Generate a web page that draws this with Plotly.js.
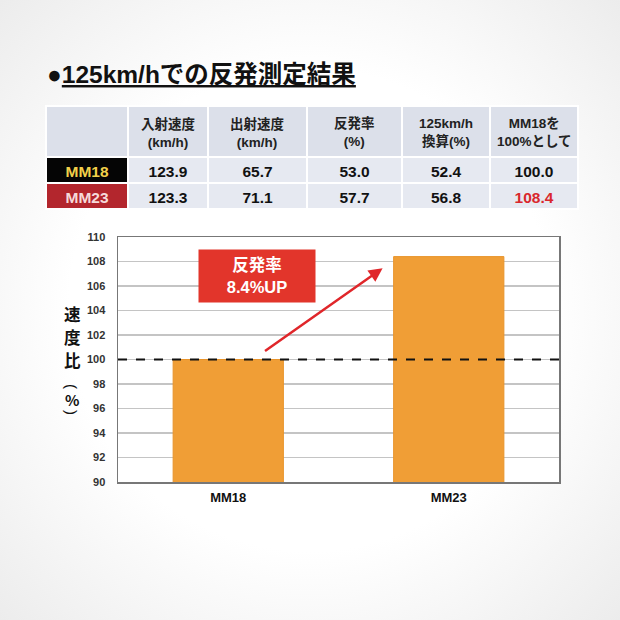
<!DOCTYPE html>
<html>
<head>
<meta charset="utf-8">
<script src="https://cdn.plot.ly/plotly-3.0.1.min.js"></script>
<style>
  html, body { margin: 0; padding: 0; }
  body { width: 620px; height: 620px; background: radial-gradient(ellipse at center, #ffffff 55%, #ececec 100%); }
  #chart { width: 620px; height: 620px; }
</style>
</head>
<body>
<div id="chart"></div>
<script>
// values
const models = ['MM18', 'MM23']
const inSpeed = [123.9, 123.3]
const outSpeed = [65.7, 71.1]
const restitution = [53.0, 57.7]
const converted125 = [52.4, 56.8]
const ratioToMM18 = [100.0, 108.4]
const headerLabels = ['', '入射速度<br>(km/h)', '出射速度<br>(km/h)', '反発率<br>(%)', '125km/h<br>換算(%)', 'MM18を<br>100%として']
const yTitleChars = ['速', '度', '比', '(', '%', ')']
const yTicks = [90, 92, 94, 96, 98, 100, 102, 104, 106, 108, 110]

const FONT = 'Liberation Sans, Arial, "Noto Sans CJK JP", sans-serif'
const CJK = '"Noto Sans CJK JP", sans-serif'
const W = 620, H = 620
const px = v => v / W
const py = v => 1 - v / H

const fmt = arr => arr.map(v => v.toFixed(1))

// table geometry (pixels)
const tableLeft = 46, tableTop = 106
const colWidths = [82, 80, 99, 95, 88, 88]
const tableRight = tableLeft + colWidths.reduce((a, b) => a + b, 0)

const table = {
  type: 'table',
  domain: { x: [px(tableLeft), px(tableRight)], y: [py(212), py(tableTop)] },
  columnwidth: colWidths,
  header: {
    // header text is drawn as annotations below so both lines stay centred
    values: headerLabels.map(() => ''),
    height: 51,
    fill: { color: '#DCE0EA' },
    line: { color: '#ffffff', width: 2 },
    font: { family: FONT, size: 13, color: '#222' }
  },
  cells: {
    values: [models, fmt(inSpeed), fmt(outSpeed), fmt(restitution), fmt(converted125), fmt(ratioToMM18)],
    align: 'center',
    height: 26,
    fill: { color: [['#050505', '#B3262D'], '#E6E9F1', '#E6E9F1', '#E6E9F1', '#E6E9F1', '#E6E9F1'] },
    line: { color: '#ffffff', width: 2 },
    font: {
      family: FONT, size: 15.5, weight: 'bold',
      color: [['#F2D04A', '#F6DADA'], '#111', '#111', '#111', '#111', ['#111', '#D9272C']]
    }
  }
}

const bars = {
  type: 'bar',
  x: models,
  y: ratioToMM18,
  width: 0.5,
  marker: { color: '#F09E36', line: { color: '#E8942C', width: 1 } },
  hoverinfo: 'skip'
}

let annotations = [
  {
    xref: 'paper', yref: 'paper', x: px(45), y: py(74), xanchor: 'left', yanchor: 'middle',
    text: '●<u>125km/hでの反発測定結果</u>', showarrow: false,
    font: { family: FONT, size: 24.5, color: '#111', weight: 'bold' }
  },
  {
    xref: 'x', yref: 'y', x: 0.70, y: 107.45, axref: 'x', ayref: 'y', ax: 0.16, ay: 100.6,
    text: '', showarrow: true, arrowhead: 2, arrowsize: 1.1, arrowwidth: 2.5, arrowcolor: '#E0262A'
  },
  {
    xref: 'x', yref: 'y', x: 0.13, y: 106.8, xanchor: 'center', yanchor: 'middle',
    text: '反発率<br>8.4%UP', showarrow: false,
    width: 114, height: 50, bgcolor: '#E2352B',
    font: { family: FONT, size: 16.5, color: '#ffffff', weight: 'bold' }
  }
]

// header labels, centred in each column
let left = tableLeft
headerLabels.forEach((label, i) => {
  const centre = left + colWidths[i] / 2
  left += colWidths[i]
  if (!label) return
  annotations.push({
    xref: 'paper', yref: 'paper', x: px(centre), y: py(133), xanchor: 'center', yanchor: 'middle',
    text: label, showarrow: false, align: 'center',
    font: { family: FONT, size: 13.5, color: '#222', weight: 'bold' }
  })
})

// vertical y-axis title, one character per line; the brackets are turned to lie flat
const yTitlePos = [314, 337, 360, 386, 399, 412]
yTitleChars.forEach((ch, i) => {
  const bracket = ch === '(' || ch === ')'
  annotations.push({
    xref: 'paper', yref: 'paper', x: px(72), y: py(yTitlePos[i]), xanchor: 'center', yanchor: 'middle',
    text: ch, showarrow: false, textangle: bracket ? 90 : 0,
    font: { family: bracket ? FONT : CJK, size: i < 3 ? 16.5 : 15, color: '#111', weight: bracket ? 'normal' : 'bold' }
  })
})

const layout = {
  width: W, height: H,
  margin: { l: 0, r: 0, t: 0, b: 0 },
  paper_bgcolor: 'rgba(0,0,0,0)',
  plot_bgcolor: '#ffffff',
  showlegend: false,
  xaxis: {
    domain: [px(118), px(559)],
    anchor: 'y',
    range: [-0.5, 1.5],
    showgrid: false,
    showline: true, linecolor: '#777', linewidth: 1.5, mirror: true,
    ticks: 'outside', ticklen: 3, tickcolor: 'rgba(0,0,0,0)',
    tickfont: { family: FONT, size: 13, color: '#111', weight: 'bold' }
  },
  yaxis: {
    domain: [py(482), py(237)],
    anchor: 'x',
    range: [90, 110],
    tickvals: yTicks,
    showgrid: true, gridcolor: '#C4C4C4', gridwidth: 1.5,
    zeroline: false,
    showline: true, linecolor: '#777', linewidth: 1.5, mirror: true,
    ticks: 'outside', ticklen: 9, tickcolor: 'rgba(0,0,0,0)',
    tickfont: { family: FONT, size: 11, color: '#333', weight: 'bold' }
  },
  shapes: [
    {
      type: 'line', xref: 'x domain', yref: 'y',
      x0: 0, x1: 1, y0: 100, y1: 100,
      line: { color: '#111', width: 2, dash: 'dash' }
    }
  ],
  annotations: annotations
}

Plotly.newPlot('chart', [table, bars], layout, { staticPlot: true })
</script>
</body>
</html>
